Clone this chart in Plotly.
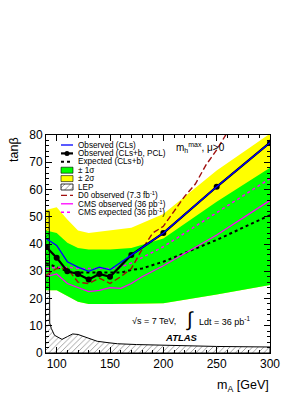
import plotly.graph_objects as go

# ---------------- data ----------------
mA_obs = [90, 100, 110, 120, 130, 140, 150, 170, 200, 250, 300]
obs_pcl = [39, 35, 30, 29, 27, 29, 28, 36, 44, 61, 77.2]
obs_cls = [42, 39.5, 33.5, 31.5, 30, 31.5, 30.5, 36, 44, 61, 77.2]

mA_exp = [90, 100, 110, 120, 130, 140, 150, 160, 170, 180, 200, 250, 300]
exp_clsb = [33, 31.5, 30, 29.5, 29.5, 29.5, 29.5, 29.5, 30.5, 31, 33.5, 41.5, 50.6]

mA_band = [90, 100, 110, 120, 130, 140, 150, 170, 200, 250, 300]
band_p2 = [52.5, 53.5, 49, 45, 44, 44.5, 45, 46, 51, 67, 80.5]
band_p1 = [45, 44, 40.5, 38.5, 38, 38, 38, 38.5, 42, 55.5, 68]
band_m1 = [23, 23, 21, 18.8, 18, 18, 18, 18, 18.3, 21.5, 25]

mA_d0 = [90, 100, 110, 120, 130, 140, 150, 160, 170, 180, 190, 200, 210, 220, 230, 240, 250, 260]
d0_obs = [28.5, 31, 31, 26, 25.5, 27.5, 25.5, 28, 31, 38, 44, 46.5, 52, 57.5, 62, 69, 74.5, 81]

mA_cms = [90, 100, 110, 120, 130, 140, 150, 160, 170, 180, 200, 250, 300]
cms_obs = [28, 29, 25.5, 24, 22.5, 23, 24, 23.7, 25.5, 28, 32, 43.3, 56]
cms_exp = [31, 31.5, 31.5, 31, 31, 31, 31, 31.5, 33, 35, 39, 51.5, 64]

mA_lep = [90, 93, 93.5, 95, 98, 105, 110, 115, 120, 125, 130, 138, 150, 157, 175, 200, 250, 300]
lep = [52, 52, 11, 9, 6.5, 5, 6, 7, 6.8, 6.1, 5.3, 4.3, 3.7, 3.4, 3.1, 2.8, 2.4, 2.2]

x_ticks = [100, 150, 200, 250, 300]
y_ticks = [0, 10, 20, 30, 40, 50, 60, 70, 80]

legend_labels = [
    "Observed (CLs)",
    "Observed (CLs+b, PCL)",
    "Expected (CLs+b)",
    "± 1σ",
    "± 2σ",
    "LEP",
    "D0 observed (7.3 fb<sup>-1</sup>)",
    "CMS observed (36 pb<sup>-1</sup>)",
    "CMS expected (36 pb<sup>-1</sup>)",
]

# ---------------- figure ----------------
FONT = "Liberation Sans, Arial, Helvetica, sans-serif"
W, H = 307, 398
OFF = 8  # page body margin
PX0, PX1, PY0, PY1 = 46, 270, 135, 353   # plot area in window pixels
L, T = PX0 - OFF, PY0 - OFF
R, B = W - (PX1 - OFF), H - (PY1 - OFF)


def px2paper_x(px):
    return (px - PX0) / (PX1 - PX0)


def px2paper_y(py):
    return (PY1 - py) / (PY1 - PY0)


GREEN = "#00FF00"
YELLOW = "#FFFF00"
BLUE = "#0000FF"
MAG = "#FF00FF"
D0C = "#A00F0F"

fig = go.Figure()

fig.add_trace(go.Scatter(
    x=mA_band + mA_band[::-1], y=band_p2 + band_m1[::-1],
    fill="toself", fillcolor=YELLOW, line=dict(width=0), mode="lines",
    hoverinfo="skip", showlegend=False))
fig.add_trace(go.Scatter(
    x=mA_band + mA_band[::-1], y=band_p1 + band_m1[::-1],
    fill="toself", fillcolor=GREEN, line=dict(width=0), mode="lines",
    hoverinfo="skip", showlegend=False))
fig.add_trace(go.Scatter(
    x=mA_lep + [mA_lep[-1], mA_lep[0]], y=lep + [0, 0],
    fill="toself", fillcolor="rgba(0,0,0,0)",
    fillpattern=dict(shape="/", fgcolor="black", bgcolor="rgba(0,0,0,0)", size=4, solidity=0.18),
    line=dict(color="black", width=1), mode="lines",
    hoverinfo="skip", showlegend=False))
fig.add_trace(go.Scatter(x=mA_exp, y=exp_clsb, mode="lines",
                         line=dict(color="black", width=2, dash="dot"), showlegend=False))
fig.add_trace(go.Scatter(x=mA_cms, y=cms_exp, mode="lines",
                         line=dict(color=MAG, width=1.5, dash="dot"), showlegend=False))
fig.add_trace(go.Scatter(x=mA_cms, y=cms_obs, mode="lines",
                         line=dict(color=MAG, width=1.3), showlegend=False))
fig.add_trace(go.Scatter(x=mA_d0, y=d0_obs, mode="lines",
                         line=dict(color=D0C, width=1.4, dash="6px,3px"), showlegend=False))
fig.add_trace(go.Scatter(x=mA_obs, y=obs_pcl, mode="lines+markers",
                         line=dict(color="black", width=2.2),
                         marker=dict(color="black", size=6), showlegend=False))
fig.add_trace(go.Scatter(x=mA_obs, y=obs_cls, mode="lines",
                         line=dict(color=BLUE, width=1.3), showlegend=False))

# ---------- manual legend in window-pixel coordinates (overlay axes x2/y2) ----------
row0, dy = 145, 8.4
sx0, sx1, tx = 61, 73, 76
rows = [row0 + i * dy for i in range(len(legend_labels))]
for yy, lab in zip(rows, legend_labels):
    fig.add_annotation(x=tx, y=yy, xref="x2", yref="y2", text=lab, showarrow=False,
                       xanchor="left", yanchor="middle",
                       font=dict(family=FONT, size=8.2, color="black"))

fig.add_shape(type="line", xref="x2", yref="y2", x0=sx0, x1=sx1, y0=rows[0], y1=rows[0],
              line=dict(color=BLUE, width=1.3))
fig.add_shape(type="line", xref="x2", yref="y2", x0=sx0, x1=sx1, y0=rows[1], y1=rows[1],
              line=dict(color="black", width=2.2))
fig.add_shape(type="circle", xref="x2", yref="y2", x0=(sx0 + sx1) / 2 - 2.5, x1=(sx0 + sx1) / 2 + 2.5,
              y0=rows[1] - 2.5, y1=rows[1] + 2.5, fillcolor="black", line=dict(color="black", width=0))
fig.add_shape(type="line", xref="x2", yref="y2", x0=sx0, x1=sx1, y0=rows[2], y1=rows[2],
              line=dict(color="black", width=2, dash="dot"))
for k, col in ((3, GREEN), (4, YELLOW)):
    fig.add_shape(type="rect", xref="x2", yref="y2", x0=sx0, x1=sx1, y0=rows[k] - 3, y1=rows[k] + 3,
                  fillcolor=col, line=dict(color="black", width=0.6))
fig.add_trace(go.Scatter(
    x=[sx0, sx1, sx1, sx0, sx0], y=[rows[5] - 3, rows[5] - 3, rows[5] + 3, rows[5] + 3, rows[5] - 3],
    xaxis="x2", yaxis="y2", mode="lines", fill="toself", fillcolor="rgba(0,0,0,0)",
    fillpattern=dict(shape="/", fgcolor="black", bgcolor="white", size=4, solidity=0.2),
    line=dict(color="black", width=0.8), hoverinfo="skip", showlegend=False))
fig.add_shape(type="line", xref="x2", yref="y2", x0=sx0, x1=sx1, y0=rows[6], y1=rows[6],
              line=dict(color=D0C, width=1.4, dash="6px,3px"))
fig.add_shape(type="line", xref="x2", yref="y2", x0=sx0, x1=sx1, y0=rows[7], y1=rows[7],
              line=dict(color=MAG, width=1.3))
fig.add_shape(type="line", xref="x2", yref="y2", x0=sx0, x1=sx1, y0=rows[8], y1=rows[8],
              line=dict(color=MAG, width=1.5, dash="dot"))

# ---------- text labels ----------
fig.add_annotation(x=174, y=147, xref="x2", yref="y2", showarrow=False, xanchor="left", yanchor="middle",
                   text="m<sub>h</sub><sup>max</sup>, μ>0", font=dict(family=FONT, size=10, color="black"))
fig.add_annotation(x=130, y=321, xref="x2", yref="y2", showarrow=False, xanchor="left", yanchor="middle",
                   text="√s = 7 TeV,", font=dict(family=FONT, size=9, color="black"))
fig.add_annotation(x=190, y=319, xref="x2", yref="y2", showarrow=False, xanchor="center", yanchor="middle",
                   text="∫", font=dict(family=FONT, size=20, color="black"))
fig.add_annotation(x=197, y=321, xref="x2", yref="y2", showarrow=False, xanchor="left", yanchor="middle",
                   text="Ldt = 36 pb<sup>-1</sup>", font=dict(family=FONT, size=9, color="black"))
fig.add_annotation(x=181, y=337, xref="x2", yref="y2", showarrow=False, xanchor="center", yanchor="middle",
                   text="<b><i>ATLAS</i></b>", font=dict(family=FONT, size=9.5, color="black"))

# axis titles (outside the plot area -> paper coordinates)
fig.add_annotation(x=px2paper_x(14), y=px2paper_y(150), xref="paper", yref="paper", showarrow=False,
                   textangle=-90, xanchor="center", yanchor="middle",
                   text="tanβ", font=dict(family=FONT, size=12.5, color="black"))
fig.add_annotation(x=px2paper_x(271), y=px2paper_y(386), xref="paper", yref="paper", showarrow=False,
                   xanchor="right", yanchor="middle",
                   text="m<sub>A</sub> [GeV]", font=dict(family=FONT, size=12.5, color="black"))

axis_common = dict(showgrid=False, zeroline=False, showline=True, linecolor="black", linewidth=1,
                   mirror="ticks", ticks="inside", tickcolor="black", tickwidth=1,
                   tickfont=dict(family=FONT, size=12, color="black"))
fig.update_layout(
    width=W, height=H, margin=dict(l=L, r=R, t=T, b=B),
    paper_bgcolor="white", plot_bgcolor="white", showlegend=False,
    xaxis=dict(range=[90, 300], tickvals=x_ticks, ticktext=[str(v) for v in x_ticks], ticklen=6,
               minor=dict(ticks="inside", dtick=10, tick0=90, ticklen=3, tickcolor="black"),
               **axis_common),
    yaxis=dict(range=[0, 80], tickvals=y_ticks, ticktext=[str(v) for v in y_ticks], ticklen=6,
               minor=dict(ticks="inside", dtick=2, ticklen=3, tickcolor="black"),
               **axis_common),
    xaxis2=dict(range=[PX0, PX1], overlaying="x", visible=False, fixedrange=True),
    yaxis2=dict(range=[PY1, PY0], overlaying="y", visible=False, fixedrange=True),
)

fig.write_html("out.html")
